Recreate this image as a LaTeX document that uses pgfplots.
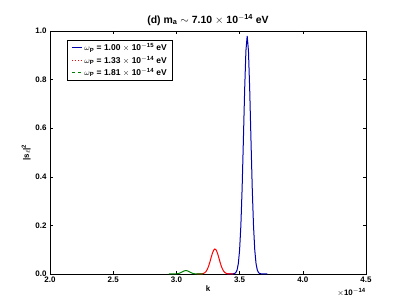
\documentclass[border=0pt]{standalone}
\usepackage{pgfplots}
\pgfplotsset{compat=1.18}
\usepackage{fontspec}
\setmainfont{Liberation Sans}
\definecolor{mplblue}{rgb}{0,0,0.68}
\definecolor{mplred}{rgb}{1,0,0}
\definecolor{mplgreen}{rgb}{0,0.5,0}
\begin{document}
\begin{tikzpicture}
\path[use as bounding box] (-50bp,-31bp) rectangle (357bp,274bp);
\begin{axis}[
  at={(0,0)}, anchor=south west,
  scale only axis, width=316bp, height=243bp,
  xmin=2.0, xmax=4.5, ymin=0, ymax=1.0,
  xtick={2.0,2.5,3.0,3.5,4.0,4.5},
  ytick={0,0.2,0.4,0.6,0.8,1.0},
  scaled ticks=false,
  /pgf/number format/assume math mode=true,
  /pgf/number format/fixed,
  /pgf/number format/fixed zerofill,
  /pgf/number format/precision=1,
  tick label style={font=\fontsize{8}{9}\selectfont\bfseries},
  xticklabel style={yshift=1bp},
  tick align=inside, major tick length=3bp,
  tick style={black, line width=0.5bp},
  axis line style={line width=0.8bp},
  xlabel={k},
  ylabel={|s\textsubscript{$\ell$}|\textsuperscript{2}},
  label style={font=\fontsize{8}{9}\selectfont\bfseries},
  xlabel style={yshift=3bp},
  ylabel style={yshift=-2bp},
  title={(d) m\textsubscript{a} $\sim$ 7.10 $\times$ 10\textsuperscript{$-$14} eV},
  title style={font=\fontsize{10.5}{12}\selectfont\bfseries, yshift=-4bp},
  legend style={at={(axis description cs:0.054,0.963)}, anchor=north west,
    font=\fontsize{8.5}{10}\selectfont\bfseries, draw=black, line width=0.6bp,
    row sep=0bp, inner xsep=4bp, inner ysep=1.5bp},
  legend cell align=left,
  legend image code/.code={\draw[#1] (0bp,0bp) -- (10bp,0bp);},
  clip=false,
]
\addplot[mplblue, line width=1bp] coordinates {
(3.40,0) (3.44,0.0001) (3.46,0.0017) (3.47,0.0056) (3.48,0.0165) (3.49,0.043)
(3.50,0.0987) (3.51,0.199) (3.52,0.353) (3.53,0.552) (3.54,0.759) (3.55,0.919)
(3.56,0.98) (3.57,0.919) (3.58,0.759) (3.59,0.552) (3.60,0.353) (3.61,0.199)
(3.62,0.0987) (3.63,0.043) (3.64,0.0165) (3.65,0.0056) (3.66,0.0017) (3.68,0.0001) (3.72,0)
};
\addlegendentry{$\omega$\textsubscript{P} = 1.00 $\times$ 10\textsuperscript{$-$15} eV}
\addplot[mplred, line width=1bp, legend image post style={mplred, dotted}] coordinates {
(3.16,0) (3.185,0.0001) (3.205,0.0010) (3.215,0.0025) (3.225,0.0055) (3.235,0.0108)
(3.245,0.0197) (3.255,0.0327) (3.265,0.0494) (3.275,0.0682) (3.285,0.0857) (3.295,0.0984)
(3.305,0.103) (3.315,0.0984) (3.325,0.0857) (3.335,0.0682) (3.345,0.0494) (3.355,0.0327)
(3.365,0.0197) (3.375,0.0108) (3.385,0.0055) (3.395,0.0025) (3.405,0.0010) (3.425,0.0001) (3.45,0)
};
\addlegendentry{$\omega$\textsubscript{P} = 1.33 $\times$ 10\textsuperscript{$-$14} eV}
\addplot[mplgreen, line width=1bp, legend image post style={mplgreen, dashed}] coordinates {
(2.94,0) (2.975,0.0001) (2.995,0.0004) (3.005,0.0009) (3.015,0.0019) (3.025,0.0035)
(3.035,0.0058) (3.045,0.0085) (3.055,0.0112) (3.065,0.0132) (3.075,0.0140)
(3.085,0.0132) (3.095,0.0112) (3.105,0.0085) (3.115,0.0058) (3.125,0.0035)
(3.135,0.0019) (3.145,0.0009) (3.155,0.0004) (3.175,0.0001) (3.21,0)
};
\addlegendentry{$\omega$\textsubscript{P} = 1.81 $\times$ 10\textsuperscript{$-$14} eV}
\node[anchor=north east, font=\fontsize{8}{9}\selectfont\bfseries, inner sep=0pt]
  at (rel axis cs:1,0) [yshift=-14bp] {$\times$10\textsuperscript{$-$14}};
\end{axis}
\end{tikzpicture}
\end{document}
